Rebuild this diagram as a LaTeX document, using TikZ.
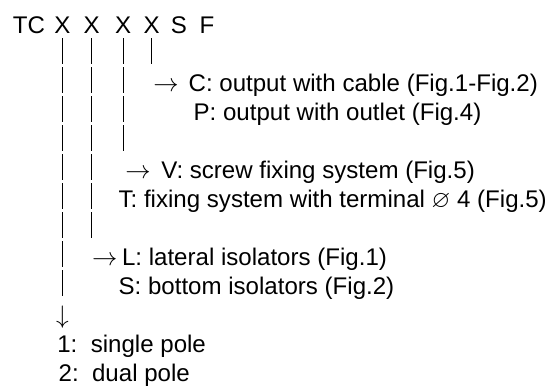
\documentclass[tikz,border=0pt]{standalone}
\usepackage{fontspec}
\usepackage{amssymb}
\setmainfont{Liberation Sans}
\usetikzlibrary{positioning}

\tikzset{
  txt/.style={anchor=base west, inner sep=0pt, font=\fontsize{13.7}{16}\selectfont},
  code/.style={anchor=base, inner sep=0pt, font=\fontsize{13.7}{16}\selectfont},
  bar/.style={line width=0.8pt, dash pattern=on 0.52cm off 0.06cm}
}

\begin{document}
\begin{tikzpicture}
\useasboundingbox (0,0) rectangle (10.94,7.70);

\node[txt] (tc) at (0.25,7.04) {TC};
\node[code] (x1) at (1.25,7.04) {X};
\node[code] (x2) at (1.835,7.04) {X};
\node[code] (x3) at (2.465,7.04) {X};
\node[code] (x4) at (3.035,7.04) {X};
\node[code] (s) at (3.58,7.04) {S};
\node[code] (f) at (4.14,7.04) {F};

\coordinate (b1) at (1.25,1.78);
\coordinate (b2) at (1.835,2.94);
\coordinate (b3) at (2.465,4.68);
\coordinate (b4) at (3.035,6.42);

\draw[bar] ([yshift=-0.1cm]x1.south) -- (b1);
\draw[bar] ([yshift=-0.1cm]x2.south) -- (b2);
\draw[bar] ([yshift=-0.1cm]x3.south) -- (b3);
\draw[bar] ([yshift=-0.1cm]x4.south) -- (b4);

\node[txt] (ac) at (3.06,5.88) {$\rightarrow$};
\node[txt] (optc) at (3.766,5.88) {C: output with cable (Fig.1-Fig.2)};
\node[txt] (optp) at (3.866,5.30) {P: output with outlet (Fig.4)};

\node[txt] (av) at (2.50,4.14) {$\rightarrow$};
\node[txt] (optv) at (3.22,4.14) {V: screw fixing system (Fig.5)};
\node[txt] (optt) at (2.366,3.56) {T: fixing system with terminal $\varnothing$ 4 (Fig.5)};

\node[txt] (al) at (1.834,2.40) {$\rightarrow$};
\node[txt] (optl) at (2.434,2.40) {L: lateral isolators (Fig.1)};
\node[txt] (opts) at (2.366,1.82) {S: bottom isolators (Fig.2)};

\node[code] (ad) at (1.25,1.24) {$\downarrow$};
\node[txt] (opt1) at (1.14,0.66) {1:\ \ single pole};
\node[txt] (opt2) at (1.166,0.08) {2:\ \ dual pole};

\end{tikzpicture}
\end{document}
